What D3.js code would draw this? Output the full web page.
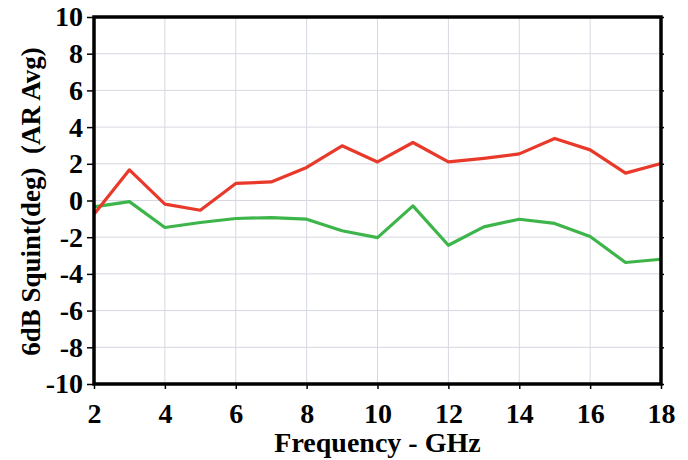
<!DOCTYPE html>
<html><head><meta charset="utf-8">
<script src="https://cdn.jsdelivr.net/npm/d3@7"></script>
<style>body{margin:0;background:#fff;} svg{display:block;}</style>
</head><body>
<svg id="c" width="688" height="460"></svg>
<script>
const freq = [2,3,4,5,6,7,8,9,10,11,12,13,14,15,16,17,18];
const redSeries = [-0.75,1.67,-0.2,-0.53,0.93,1.01,1.8,2.98,2.1,3.16,2.1,2.3,2.54,3.38,2.76,1.49,2.02];
const greenSeries = [-0.35,-0.06,-1.47,-1.2,-0.98,-0.93,-1.02,-1.65,-2.02,-0.29,-2.44,-1.44,-1.02,-1.25,-1.96,-3.38,-3.2];
const xTicks = [2,4,6,8,10,12,14,16,18];
const yTicks = [-10,-8,-6,-4,-2,0,2,4,6,8,10];
const xTitle = "Frequency - GHz";
const yTitle = "6dB Squint(deg)  (AR Avg)";

const L=94, R=661, T=17, B=384;
const svg=d3.select("#c");
const x=d3.scaleLinear().domain([2,18]).range([L,R]);
const y=d3.scaleLinear().domain([-10,10]).range([B,T]);
const font="'Liberation Serif','Times New Roman',serif";

// grid
svg.append("g").selectAll("line").data(xTicks).join("line")
  .attr("x1",d=>x(d)).attr("x2",d=>x(d)).attr("y1",T).attr("y2",B)
  .attr("stroke","#d6d8e0").attr("stroke-width",1);
svg.append("g").selectAll("line").data(yTicks).join("line")
  .attr("y1",d=>y(d)).attr("y2",d=>y(d)).attr("x1",L).attr("x2",R)
  .attr("stroke","#d6d8e0").attr("stroke-width",1);

// lines
const line=d3.line().x((d,i)=>x(freq[i])).y(d=>y(d));
svg.append("path").datum(greenSeries).attr("d",line).attr("fill","none")
  .attr("stroke","#3db54a").attr("stroke-width",3.2).attr("stroke-linejoin","round");
svg.append("path").datum(redSeries).attr("d",line).attr("fill","none")
  .attr("stroke","#e8392a").attr("stroke-width",3.2).attr("stroke-linejoin","round");

// axes
const fmt=d=>String(d);
const yAxis=d3.axisLeft(y).tickValues(yTicks).tickSize(7).tickPadding(4).tickFormat(fmt);
const gy=svg.append("g").attr("transform",`translate(${L},0)`).call(yAxis);
const xAxis=d3.axisBottom(x).tickValues(xTicks).tickSize(5).tickPadding(14).tickFormat(fmt);
const gx=svg.append("g").attr("transform",`translate(0,${B})`).call(xAxis);
const gr=svg.append("g").attr("transform",`translate(${R},0)`).call(d3.axisRight(y).tickValues(yTicks).tickSize(3).tickFormat(""));
[gy,gx,gr].forEach(g=>{
  g.select(".domain").remove();
  g.selectAll(".tick line").attr("stroke","#000").attr("stroke-width",1.5);
  g.selectAll("text").attr("fill","#000").style("font-family",font).style("font-weight","bold").style("font-size","28px");
});

// frame
svg.append("rect").attr("x",L).attr("y",T).attr("width",R-L).attr("height",B-T)
  .attr("fill","none").attr("stroke","#000").attr("stroke-width",3.5);

// titles
svg.append("text").attr("x",(L+R)/2).attr("y",452).attr("text-anchor","middle")
  .style("font-family",font).style("font-weight","bold").style("font-size","28px").text(xTitle);
svg.append("text").attr("transform",`translate(40,${(T+B)/2+1}) rotate(-90)`).attr("text-anchor","middle")
  .style("white-space","pre")
  .style("font-family",font).style("font-weight","bold").style("font-size","27px").text(yTitle);
</script>
</body></html>
